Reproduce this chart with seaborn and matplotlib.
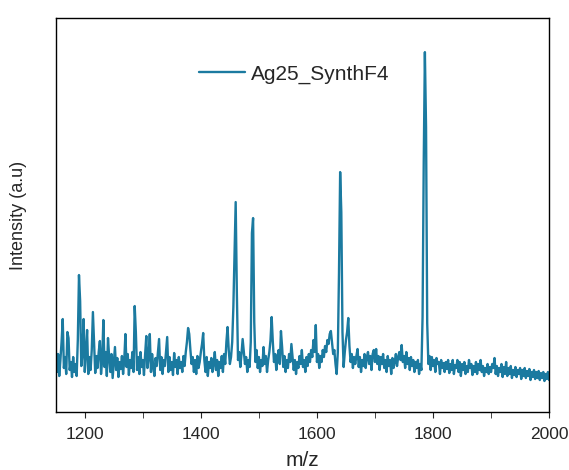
import matplotlib
matplotlib.use('Agg')
import matplotlib.pyplot as plt
import numpy as np
import pandas as pd
import seaborn as sns

sns.set_style('ticks')
plt.rcParams['font.family'] = ['Liberation Sans', 'DejaVu Sans']

sample_name = 'Ag25_SynthF4'

# m/z sampling grid (step 2)
mz = np.arange(1150, 2001, 2)

# intensity, arbitrary units
intensity = [
    62, 40, 58, 36, 52, 70, 93, 44, 55, 38, 80, 74, 42, 50, 35, 55, 40, 48, 36, 72,
    137, 111, 46, 58, 93, 40, 60, 82, 38, 55, 42, 62, 100, 70, 39, 56, 44, 60, 71, 38,
    52, 92, 45, 60, 36, 74, 55, 40, 58, 34, 50, 65, 42, 54, 35, 50, 43, 56, 38, 52,
    78, 45, 58, 37, 52, 44, 60, 40, 106, 80, 42, 55, 38, 60, 45, 52, 37, 58, 76, 44,
    55, 78, 40, 58, 45, 36, 54, 46, 60, 73, 42, 55, 38, 52, 46, 60, 75, 40, 55, 42,
    50, 37, 59, 45, 52, 38, 55, 44, 50, 40, 56, 46, 60, 70, 84, 78, 62, 48, 55, 40,
    52, 38, 56, 44, 50, 60, 68, 79, 52, 40, 55, 36, 50, 44, 54, 40, 48, 60, 42, 52,
    36, 50, 44, 56, 40, 58, 48, 70, 85, 62, 48, 55, 70, 105, 159, 210, 120, 52, 60, 45,
    58, 73, 60, 48, 55, 40, 52, 45, 70, 179, 194, 90, 50, 62, 44, 55, 40, 52, 46, 65,
    48, 56, 40, 52, 60, 72, 95, 70, 50, 58, 42, 55, 62, 48, 81, 65, 45, 56, 40, 52,
    44, 58, 50, 68, 55, 42, 52, 38, 50, 44, 56, 48, 62, 45, 52, 40, 55, 46, 58, 50,
    62, 55, 72, 60, 87, 50, 58, 44, 56, 50, 62, 55, 66, 60, 72, 68, 78, 81, 70, 58,
    62, 48, 38, 60, 139, 240, 200, 80, 45, 60, 72, 80, 94, 66, 50, 58, 44, 55, 48, 56,
    63, 45, 55, 40, 52, 46, 58, 44, 55, 60, 48, 56, 42, 58, 62, 50, 63, 48, 56, 42,
    55, 48, 58, 44, 52, 40, 56, 46, 52, 38, 54, 44, 50, 58, 46, 55, 60, 52, 67, 50,
    56, 44, 60, 48, 54, 42, 55, 46, 52, 40, 50, 44, 52, 38, 48, 42, 95, 249, 360, 285,
    89, 48, 56, 42, 55, 46, 52, 40, 54, 48, 50, 38, 52, 44, 49, 40, 50, 43, 52, 39,
    48, 42, 52, 38, 47, 44, 52, 40, 50, 36, 48, 42, 50, 38, 46, 40, 52, 44, 48, 37,
    46, 40, 50, 38, 48, 42, 52, 40, 46, 36, 44, 40, 48, 38, 45, 40, 48, 44, 54, 38,
    46, 36, 44, 40, 48, 35, 45, 38, 50, 36, 44, 38, 46, 34, 42, 37, 45, 35, 42, 38,
    44, 33, 42, 36, 44, 34, 41, 36, 43, 32, 40, 35, 42, 33, 40, 34, 41, 32, 39, 34,
    40, 31, 38, 33, 40, 32,
]

df = pd.DataFrame({'mz': mz, 'intensity': intensity})

fig = plt.figure(figsize=(5.69, 4.70), dpi=100)
ax = fig.add_axes([0.098, 0.1234, 0.867, 0.838])

sns.lineplot(data=df, x='mz', y='intensity', ax=ax, color='#1b7aa0',
             linewidth=1.7, label=sample_name)

ax.set_xlim(1150, 2000)
ax.set_ylim(0, 394)
ax.set_xticks(range(1200, 2001, 200))
ax.set_xticks(range(1200, 2001, 100), minor=True)
ax.set_yticks([])
ax.tick_params(axis='x', which='both', direction='out', labelsize=12.5,
               length=4, pad=7)
ax.set_xlabel('m/z', fontsize=15, labelpad=6)
ax.set_ylabel('Intensity (a.u)', fontsize=13, labelpad=21)
for s in ax.spines.values():
    s.set_visible(True)
    s.set_color('black')
    s.set_linewidth(1.0)

ax.legend(loc='upper left', bbox_to_anchor=(0.253, 0.93), frameon=False,
          fontsize=15, handlelength=2.2, handletextpad=0.3)

fig.savefig('out.png', dpi=100)
